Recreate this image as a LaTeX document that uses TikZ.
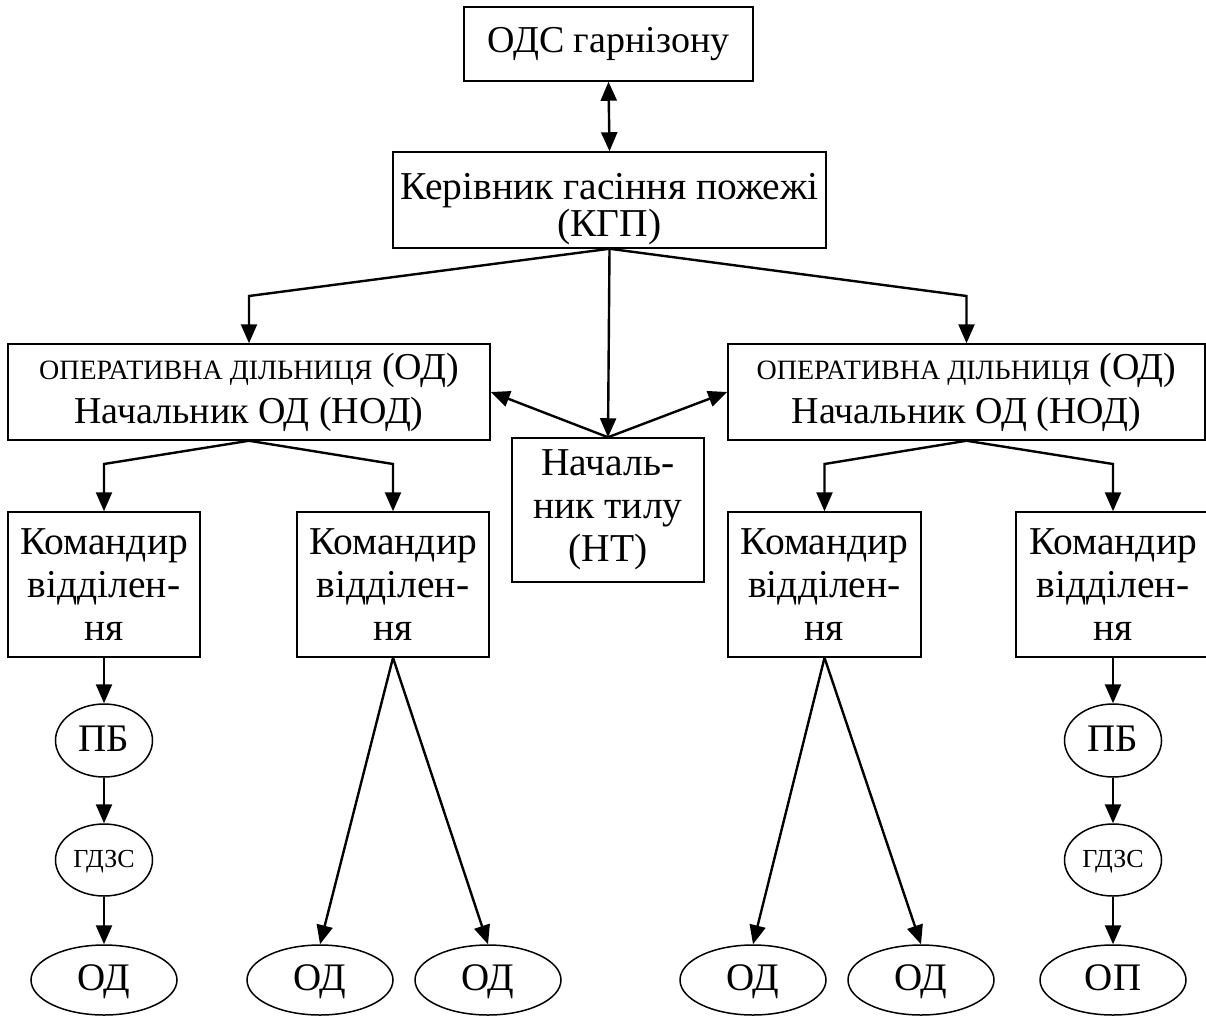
\documentclass[tikz,border=0pt]{standalone}
\usepackage{fontspec}
\setmainfont{Liberation Serif}
\usetikzlibrary{arrows.meta,shapes.geometric}
\begin{document}
\begin{tikzpicture}[x=1pt,y=-1pt,
  box/.style={draw, line width=1.5pt, inner sep=0pt, align=center, font=\fontsize{39.5}{43}\selectfont},
  oval/.style={draw, ellipse, line width=1.5pt, inner sep=0pt, text height=27pt, text depth=6pt, font=\fontsize{39}{40}\selectfont},
  arr/.style={line width=2.4pt, -{Triangle[length=19pt,width=16pt]}},
  darr/.style={line width=2.4pt, {Triangle[length=19pt,width=16pt]}-{Triangle[length=19pt,width=16pt]}},
  ]
\useasboundingbox (0,0) rectangle (1206,1016);
% boxes
\node[box, minimum width=289pt, minimum height=74pt, font=\fontsize{38}{43}\selectfont] (ods) at (608.5,44) {ОДС гарнізону};
\node[box, minimum width=433pt, minimum height=96pt, font=\fontsize{39.5}{35}\selectfont] (kgp) at (609.5,200) {\rule{0pt}{44pt}Керівник гасіння пожежі\\(КГП)};
\node[box, minimum width=482pt, minimum height=96pt, font=\fontsize{38}{44}\selectfont] (odl) at (249,392) {{\fontsize{28}{30}\selectfont ОПЕРАТИВНА ДІЛЬНИЦЯ} (ОД)\\Начальник ОД (НОД)};
\node[box, minimum width=477pt, minimum height=96pt, font=\fontsize{38}{44}\selectfont] (odr) at (966.5,392) {{\fontsize{28}{30}\selectfont ОПЕРАТИВНА ДІЛЬНИЦЯ} (ОД)\\Начальник ОД (НОД)};
\node[box, minimum width=192pt, minimum height=144pt] (nt) at (608,510) {Началь-\\ник тилу\\(НТ)};
\node[box, minimum width=192pt, minimum height=145pt] (k1) at (104,584.5) {Командир\\відділен-\\ня};
\node[box, minimum width=192pt, minimum height=145pt] (k2) at (393,584.5) {Командир\\відділен-\\ня};
\node[box, minimum width=193pt, minimum height=145pt] (k3) at (824.5,584.5) {Командир\\відділен-\\ня};
\node[box, minimum width=194pt, minimum height=145pt] (k4) at (1113,584.5) {Командир\\відділен-\\ня};
% ovals
\node[oval, minimum width=97pt, minimum height=73pt] (pb1) at (104,740.5) {ПБ};
\node[oval, minimum width=97pt, minimum height=72pt, text height=18pt, text depth=4pt, font=\fontsize{26}{28}\selectfont] (gd1) at (104,860) {ГДЗС};
\node[oval, minimum width=146pt, minimum height=70pt] (o1) at (104,980) {ОД};
\node[oval, minimum width=146pt, minimum height=70pt] (o2) at (320,980) {ОД};
\node[oval, minimum width=146pt, minimum height=70pt] (o3) at (488,980) {ОД};
\node[oval, minimum width=146pt, minimum height=70pt] (o4) at (753,980) {ОД};
\node[oval, minimum width=146pt, minimum height=70pt] (o5) at (921,980) {ОД};
\node[oval, minimum width=97pt, minimum height=73pt] (pb2) at (1113,740.5) {ПБ};
\node[oval, minimum width=97pt, minimum height=72pt, text height=18pt, text depth=4pt, font=\fontsize{26}{28}\selectfont] (gd2) at (1113,860) {ГДЗС};
\node[oval, minimum width=146pt, minimum height=70pt] (op) at (1113,980) {ОП};
% helper levels
\coordinate (lv1) at (0,296);
\coordinate (lv2) at (0,464);
% connectors
\draw[darr] (ods.south) -- (kgp.north);
\draw[arr] (kgp.south) -- (odl.north |- lv1) -- (odl.north);
\draw[arr] (kgp.south) -- (odr.north |- lv1) -- (odr.north);
\draw[arr] (kgp.south) -- (nt.north);
\draw[arr] (nt.north) -- (odl.east);
\draw[arr] (nt.north) -- (odr.west);
\draw[arr] (odl.south) -- (k1.north |- lv2) -- (k1.north);
\draw[arr] (odl.south) -- (k2.north |- lv2) -- (k2.north);
\draw[arr] (odr.south) -- (k3.north |- lv2) -- (k3.north);
\draw[arr] (odr.south) -- (k4.north |- lv2) -- (k4.north);
\draw[arr] (k1.south) -- (pb1.north);
\draw[arr] (pb1.south) -- (gd1.north);
\draw[arr] (gd1.south) -- (o1.north);
\draw[arr] (k2.south) -- (o2.north);
\draw[arr] (k2.south) -- (o3.north);
\draw[arr] (k3.south) -- (o4.north);
\draw[arr] (k3.south) -- (o5.north);
\draw[arr] (k4.south) -- (pb2.north);
\draw[arr] (pb2.south) -- (gd2.north);
\draw[arr] (gd2.south) -- (op.north);
\end{tikzpicture}
\end{document}
